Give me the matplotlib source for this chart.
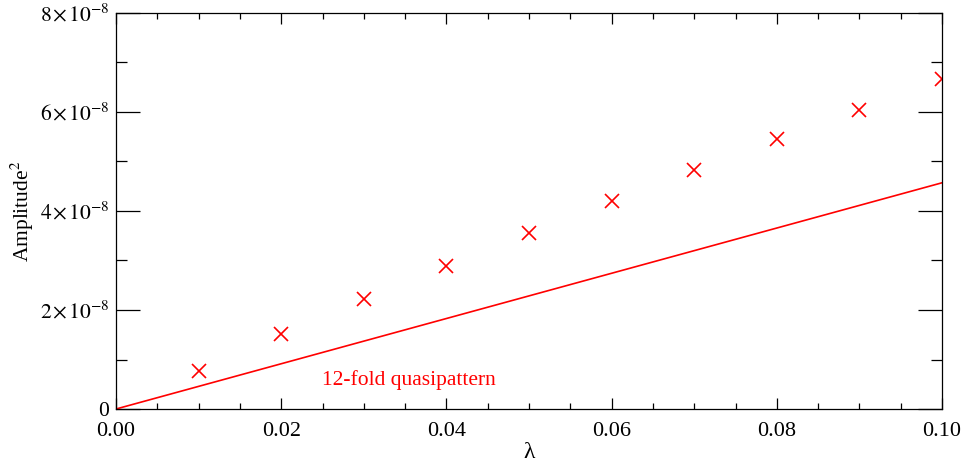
import numpy as np
import matplotlib
matplotlib.use("Agg")
import matplotlib.pyplot as plt
from matplotlib.ticker import MultipleLocator, FixedLocator

plt.rcParams['font.family'] = ['Liberation Serif', 'DejaVu Serif']
plt.rcParams['mathtext.fontset'] = 'stix'

# crosses
lam = [0.01, 0.02, 0.03, 0.04, 0.05, 0.06, 0.07, 0.08, 0.09, 0.10]
amp2 = [0.77e-8, 1.52e-8, 2.22e-8, 2.89e-8, 3.56e-8, 4.20e-8, 4.83e-8, 5.45e-8, 6.05e-8, 6.66e-8]

# straight line (theory)
lam_line = [0.0, 0.10]
amp2_line = [0.0, 4.57e-8]

yticks = [0, 2e-8, 4e-8, 6e-8, 8e-8]
ytick_labels = ["0"] + [r"$%d\hspace{0.1}{\times}\hspace{0.15}10^{-8}$" % k for k in (2, 4, 6, 8)]
xticks = [0.0, 0.02, 0.04, 0.06, 0.08, 0.10]
xtick_labels = ["0.00", "0.02", "0.04", "0.06", "0.08", "0.10"]

fig = plt.figure(figsize=(9.64, 4.61), dpi=100)
ax = fig.add_axes([116/964, 1 - 409/461, (942-116)/964, (409-13)/461])

ax.plot(lam_line, amp2_line, color="red", lw=1.2)
ax.plot(lam, amp2, ls="none", marker="x", ms=10.5, mew=1.2, color="red")
ax.text(0.025, 0.49e-8, "12-fold quasipattern", color="red", fontsize=15.5)

ax.set_xlim(0, 0.10)
ax.set_ylim(0, 8e-8)
ax.xaxis.set_major_locator(FixedLocator(xticks))
ax.set_xticklabels(xtick_labels)
ax.xaxis.set_minor_locator(MultipleLocator(0.005))
ax.yaxis.set_major_locator(FixedLocator(yticks))
ax.set_yticklabels(ytick_labels)
ax.yaxis.set_minor_locator(MultipleLocator(1e-8))

ax.tick_params(which="both", direction="in", top=True, right=True, width=0.9)
ax.tick_params(axis="x", which="major", length=8, pad=9, labelsize=16)
ax.tick_params(axis="x", which="minor", length=4)
ax.tick_params(axis="y", which="major", length=17, pad=5, labelsize=15.5)
ax.tick_params(axis="y", which="minor", length=8)
for s in ax.spines.values():
    s.set_linewidth(0.9)

ax.set_xlabel("λ", fontsize=17, labelpad=1)
ax.set_ylabel(r"Amplitude$^2$", fontsize=15.5)
ax.yaxis.set_label_coords(-0.097, 0.5)

fig.savefig("out.png", dpi=100)
